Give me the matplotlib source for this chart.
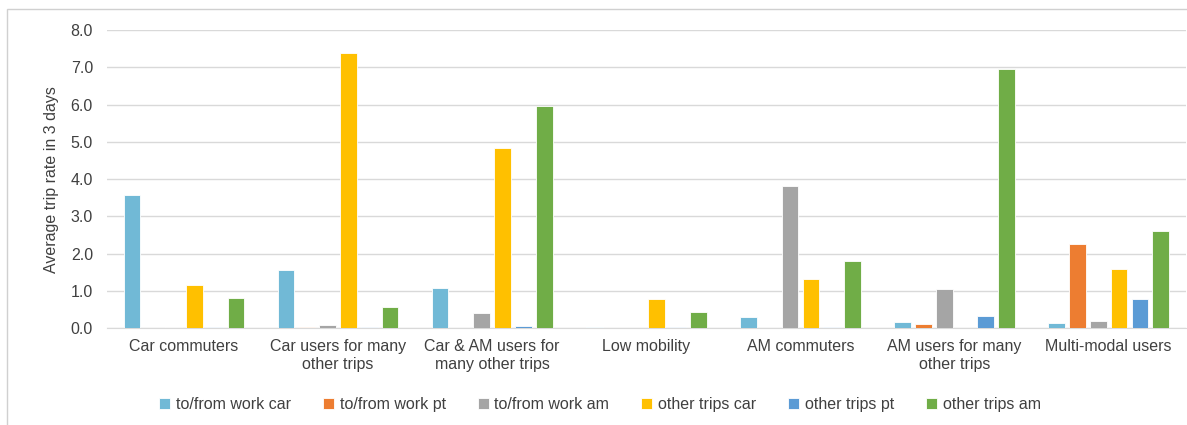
import numpy as np
import matplotlib.pyplot as plt
from matplotlib.patches import Rectangle

plt.rcParams['font.family'] = ['Liberation Sans', 'DejaVu Sans']

groups = ['Car commuters', 'Car users for many\nother trips', 'Car & AM users for\nmany other trips',
          'Low mobility', 'AM commuters', 'AM users for many\nother trips', 'Multi-modal users']
series = ['to/from work car', 'to/from work pt', 'to/from work am',
          'other trips car', 'other trips pt', 'other trips am']
work_car = [3.58, 1.56, 1.09, 0.02, 0.29, 0.16, 0.13]
work_pt = [0.0, 0.03, 0.0, 0.0, 0.01, 0.11, 2.27]
work_am = [0.03, 0.09, 0.41, 0.0, 3.81, 1.06, 0.20]
other_car = [1.16, 7.38, 4.83, 0.79, 1.32, 0.0, 1.59]
other_pt = [0.03, 0.03, 0.05, 0.02, 0.02, 0.32, 0.79]
other_am = [0.82, 0.58, 5.96, 0.43, 1.80, 6.97, 2.61]
colors = ['#71B9D6', '#ED7D31', '#A5A5A5', '#FFC000', '#5B9BD5', '#70AD47']

fig = plt.figure(figsize=(11.87, 4.25), dpi=100)
ax = fig.add_axes([0.090, 0.228, 0.909, 0.701])

# outer chart frame
fig.patches.append(Rectangle((0.006, -0.1), 1.1, 1.078, transform=fig.transFigure,
                             fill=False, edgecolor='#D0D0D0', linewidth=1.0))

x = np.arange(len(groups))
pitch = 0.135
width = 0.108
data = [work_car, work_pt, work_am, other_car, other_pt, other_am]
for i, (vals, name, c) in enumerate(zip(data, series, colors)):
    ax.bar(x + (i - 2.5) * pitch, vals, width, color=c, label=name,
           edgecolor='white', linewidth=0.6, zorder=3)

ax.set_xlim(-0.5, len(groups) - 0.5)
ax.set_ylim(0, 8)
ax.set_yticks(np.arange(0, 8.1, 1.0))
ax.set_yticklabels(['%.1f' % v for v in np.arange(0, 8.1, 1.0)], fontsize=11.5, color='#404040')
ax.set_xticks(x)
ax.set_xticklabels(groups, fontsize=11.5, color='#404040')
ax.tick_params(axis='both', length=0, pad=8)
ax.tick_params(axis='y', pad=10)
ax.grid(axis='y', color='#D9D9D9', linewidth=1.0, zorder=0)
for s in ['top', 'right', 'left']:
    ax.spines[s].set_visible(False)
ax.spines['bottom'].set_color('#D9D9D9')
ax.set_ylabel('Average trip rate in 3 days', fontsize=11.5, color='#404040', labelpad=8)

ax.legend(loc='center', bbox_to_anchor=(0.457, -0.258), ncol=6, frameon=False,
          fontsize=11.5, handlelength=0.7, handleheight=0.7, handletextpad=0.35,
          columnspacing=2.0, labelcolor='#404040')

fig.savefig('out.png', dpi=100)
